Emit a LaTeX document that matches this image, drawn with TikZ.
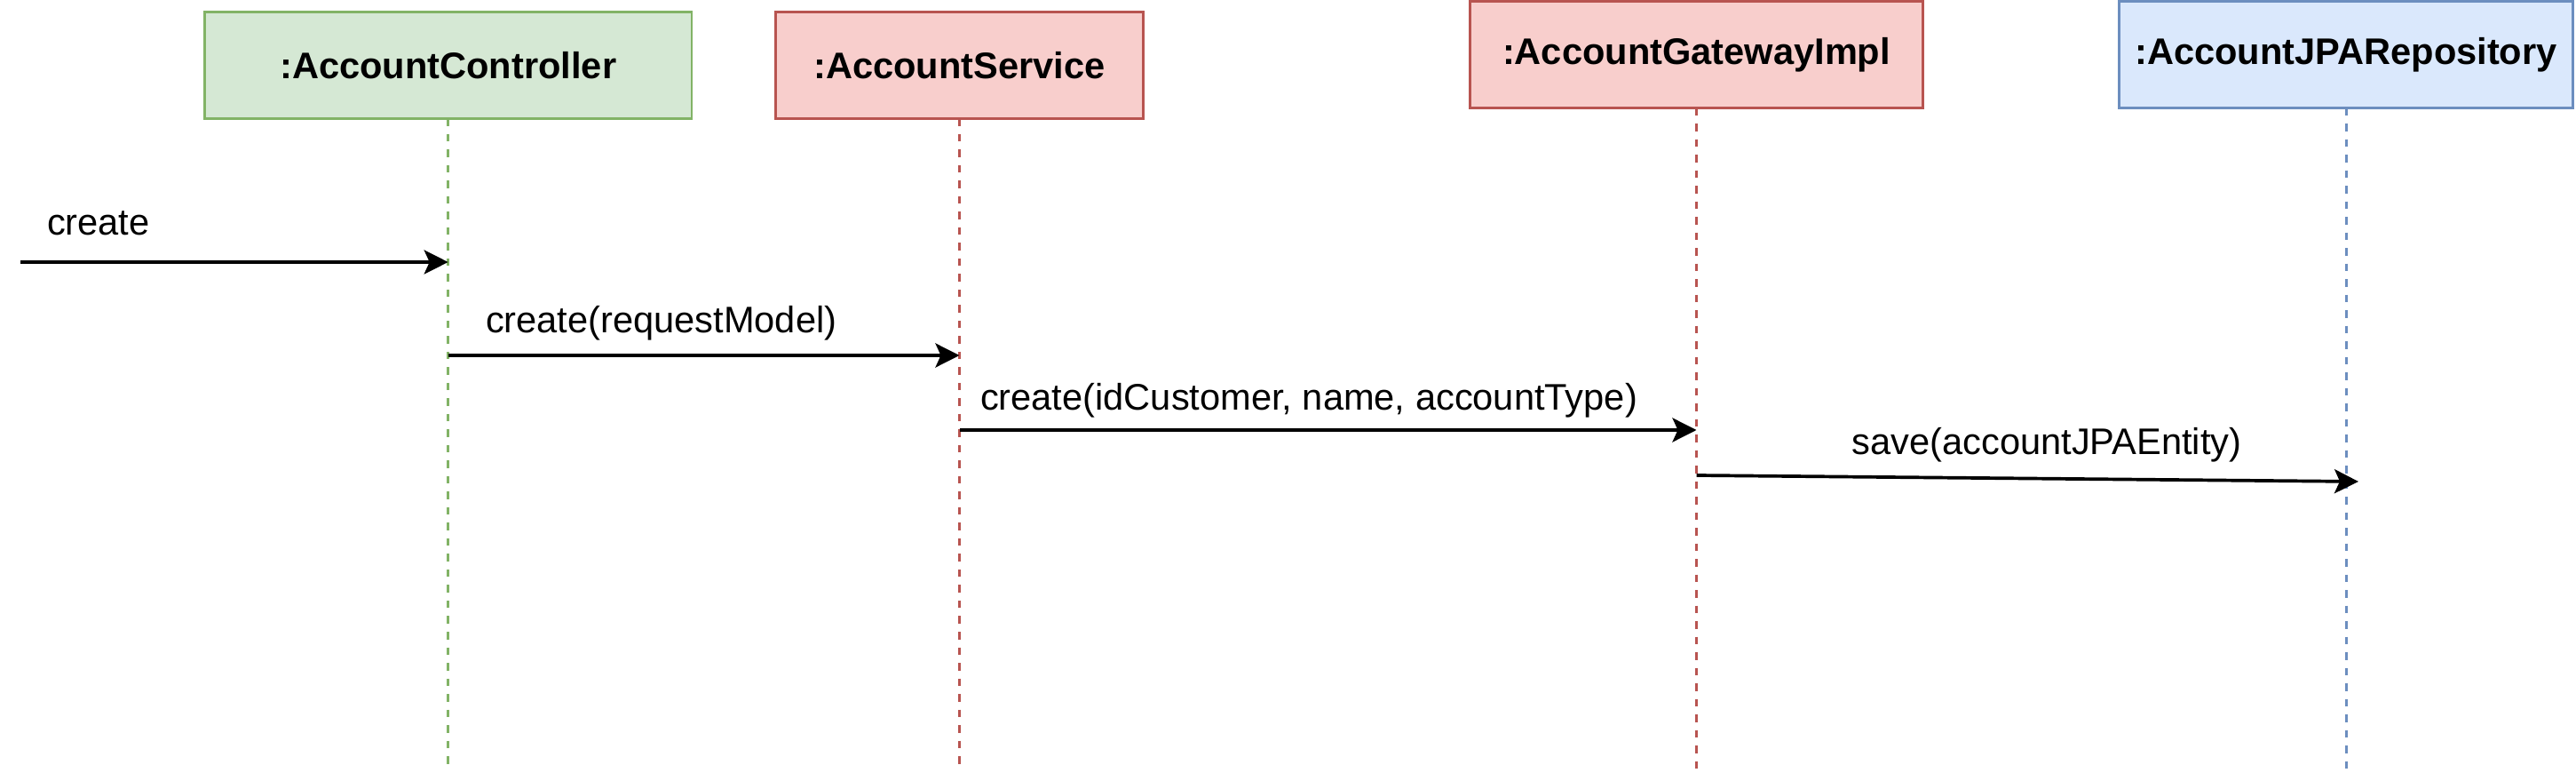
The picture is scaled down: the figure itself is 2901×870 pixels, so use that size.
\documentclass[tikz,border=0pt]{standalone}
\usepackage{fontspec}
\setmainfont{Liberation Sans}
\usetikzlibrary{arrows.meta}
\definecolor{gfill}{HTML}{D5E8D4}
\definecolor{gline}{HTML}{82B366}
\definecolor{rfill}{HTML}{F8CECC}
\definecolor{rline}{HTML}{B85450}
\definecolor{bfill}{HTML}{DAE8FC}
\definecolor{bline}{HTML}{6C8EBF}
\tikzset{
  objbox/.style={draw, line width=1.35pt, rectangle, inner sep=0pt, outer sep=0pt,
    font=\fontsize{20.8pt}{24pt}\selectfont\bfseries},
  lifeline/.style={line width=1.5pt, dash pattern=on 4.25pt off 4.5pt},
  msg/.style={line width=1.85pt, -{Stealth[length=13.5pt, width=13.5pt, inset=3pt]}},
  msglabel/.style={inner sep=0pt, outer sep=0pt, font=\fontsize{20.8pt}{24pt}\selectfont}
}
\begin{document}
\begin{tikzpicture}[x=0.5pt,y=-0.5pt]
\useasboundingbox (0,0) rectangle (2901,870);
% objects
\node[objbox, fill=gfill, draw=gline, minimum width=274.3pt, minimum height=59.85pt] (ctrl) at (504.7,73.65) {:AccountController};
\node[objbox, fill=rfill, draw=rline, minimum width=207.1pt, minimum height=59.85pt] (svc) at (1080.5,73.65) {:AccountService};
\node[objbox, fill=rfill, draw=rline, minimum width=255.1pt, minimum height=60.2pt] (gw) at (1910.5,61.5) {:AccountGatewayImpl};
\node[objbox, fill=bfill, draw=bline, minimum width=255.6pt, minimum height=60.2pt] (repo) at (2642,61.5) {:AccountJPARepository};
% lifeline ends
\coordinate (ctrlEnd) at (ctrl.south |- 0,868);
\coordinate (svcEnd) at (svc.south |- 0,868);
\coordinate (gwEnd) at (gw.south |- 0,868);
\coordinate (repoEnd) at (repo.south |- 0,868);
\draw[lifeline, draw=gline] (ctrl.south) -- (ctrlEnd);
\draw[lifeline, draw=rline] (svc.south) -- (svcEnd);
\draw[lifeline, draw=rline] (gw.south) -- (gwEnd);
\draw[lifeline, draw=bline] (repo.south) -- (repoEnd);
% message end points
\coordinate (m1s) at (23,295);
\coordinate (m1e) at (ctrl.south |- 0,295);
\coordinate (m2s) at (ctrl.south |- 0,400);
\coordinate (m2e) at (svc.south |- 0,400);
\coordinate (m3s) at (svc.south |- 0,484);
\coordinate (m3e) at (gw.south |- 0,484);
\coordinate (m4s) at (gw.south |- 0,535);
\coordinate (m4e) at (2656,542);
\draw[msg] (m1s) -- (m1e);
\draw[msg] (m2s) -- (m2e);
\draw[msg] (m3s) -- (m3e);
\draw[msg] (m4s) -- (m4e);
% labels
\node[msglabel, anchor=base west] (l1) at (53,265) {create};
\node[msglabel, anchor=base west] (l2) at (547,375) {create(requestModel)};
\node[msglabel, anchor=base west] (l3) at (1104,462) {create(idCustomer, name, accountType)};
\node[msglabel, anchor=base] (l4) at (2305,512) {save(accountJPAEntity)};
\end{tikzpicture}
\end{document}
